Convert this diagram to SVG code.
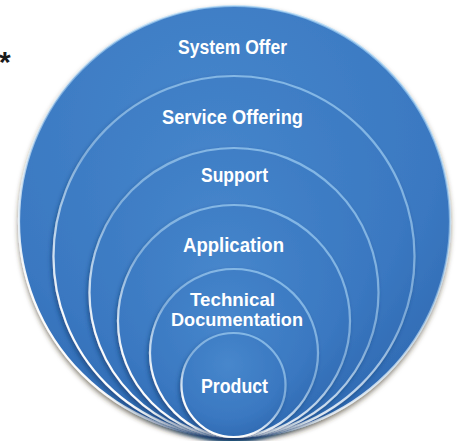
<svg xmlns="http://www.w3.org/2000/svg" width="459" height="441" viewBox="0 0 459 441">
<defs>
<radialGradient id="fillG" cx="0.45" cy="0.3" r="0.75">
<stop offset="0" stop-color="#4787cc"/>
<stop offset="0.7" stop-color="#3a78c1"/>
<stop offset="1" stop-color="#2f68b0"/>
</radialGradient>
<linearGradient id="rimG" x1="0.75" y1="0" x2="0.25" y2="1">
<stop offset="0" stop-color="#9fd0f5" stop-opacity="0.7"/>
<stop offset="0.45" stop-color="#bfe0f8" stop-opacity="0.5"/>
<stop offset="0.8" stop-color="#ffffff" stop-opacity="0.95"/>
<stop offset="1" stop-color="#ffffff" stop-opacity="1"/>
</linearGradient>
<filter id="outerShadow" x="-10%" y="-10%" width="120%" height="125%">
<feDropShadow dx="0" dy="3" stdDeviation="2.5" flood-color="#3a3020" flood-opacity="0.6"/>
</filter>
<filter id="innerShadow" x="-10%" y="-10%" width="120%" height="125%">
<feDropShadow dx="-1.5" dy="2.5" stdDeviation="2" flood-color="#16396a" flood-opacity="0.6"/>
</filter>
</defs>
<style>
.disc { fill: url(#fillG); stroke: url(#rimG); stroke-width: 2.2; }
.lbl { font-family: "Liberation Sans", Arial, sans-serif; font-weight: bold; font-size: 20px; fill: #ffffff; text-anchor: middle; }
.lbl2 { font-size: 19px; }
.star { font-family: "Liberation Sans", Arial, sans-serif; font-weight: bold; font-size: 30px; fill: #1a1a1a; }
</style>
<text class="star" x="-1" y="72">*</text>
<g id="system-offer">
<circle class="disc" cx="234.5" cy="221.5" r="215.5" filter="url(#outerShadow)"/>
<text class="lbl" x="232.5" y="54" textLength="109" lengthAdjust="spacingAndGlyphs">System Offer</text>
</g>
<g id="service-offering">
<circle class="disc" cx="234" cy="256.5" r="180.5" filter="url(#innerShadow)"/>
<text class="lbl" x="232.5" y="124" textLength="141" lengthAdjust="spacingAndGlyphs">Service Offering</text>
</g>
<g id="support">
<circle class="disc" cx="234" cy="292.5" r="144.5" filter="url(#innerShadow)"/>
<text class="lbl" x="234.5" y="182" textLength="67" lengthAdjust="spacingAndGlyphs">Support</text>
</g>
<g id="application">
<circle class="disc" cx="234" cy="321" r="116" filter="url(#innerShadow)"/>
<text class="lbl" x="233.5" y="252" textLength="101" lengthAdjust="spacingAndGlyphs">Application</text>
</g>
<g id="technical-documentation">
<circle class="disc" cx="234" cy="353" r="84" filter="url(#innerShadow)"/>
<text class="lbl lbl2" x="232.5" y="306" textLength="85" lengthAdjust="spacingAndGlyphs">Technical</text>
<text class="lbl lbl2" x="237" y="326" textLength="132" lengthAdjust="spacingAndGlyphs">Documentation</text>
</g>
<g id="product">
<circle class="disc" cx="233.5" cy="385" r="52" filter="url(#innerShadow)"/>
<text class="lbl" x="234.5" y="393" textLength="67" lengthAdjust="spacingAndGlyphs">Product</text>
</g>
<g id="connectors"/>
</svg>
